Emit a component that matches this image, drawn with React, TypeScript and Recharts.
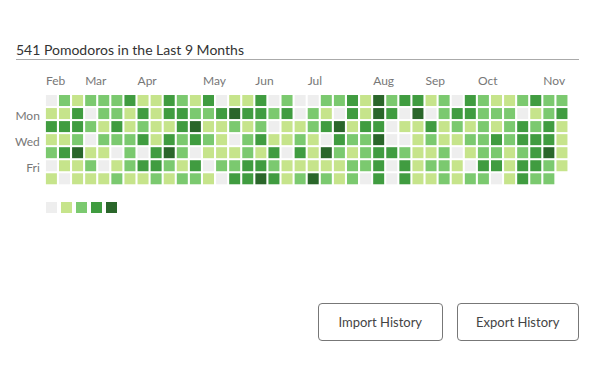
import React from "react";
import { ScatterChart, Scatter, XAxis, YAxis } from "recharts";

const title = "541 Pomodoros in the Last 9 Months";
const monthLabels = ["Feb", "Mar", "Apr", "May", "Jun", "Jul", "Aug", "Sep", "Oct", "Nov"];
const monthStartCols = [0, 3, 7, 12, 16, 20, 25, 29, 33, 38];
const dayLabels = ["Mon", "Wed", "Fri"];
const dayTicks = [1, 3, 5];
const levelColors = ["#eeeeee", "#c6e48b", "#7bc96f", "#409c40", "#2a662a"];
const legendLevels = [0, 1, 2, 3, 4];
const buttonLabels = ["Import History", "Export History"];

// levels per weekday (Sun..Sat), one value per week column; null = no day yet
const sun = [0,2,1,2,2,2,3,1,1,3, 2,1,3,0,1,1,3,0,2,0, 0,2,2,3,1,4,2,3,3,1, 2,0,3,2,1,1,2,3,2,2];
const mon = [1,1,3,0,2,2,1,3,1,3, 3,2,2,3,4,3,3,2,3,0, 2,1,0,3,1,4,3,0,4,0, 2,3,3,2,2,2,0,1,2,3];
const tue = [3,3,3,2,1,3,1,2,1,1, 3,4,1,1,2,1,2,0,1,1, 2,3,4,1,3,3,0,1,1,3, 1,2,1,2,1,2,3,2,3,1];
const wed = [1,1,2,0,2,2,2,3,1,3, 2,3,2,1,0,2,3,1,1,2, 1,0,3,2,2,4,0,0,1,2, 1,1,2,2,3,2,3,3,3,1];
const thu = [2,3,4,1,1,0,2,0,3,4, 2,0,1,1,1,2,1,3,0,3, 1,4,2,1,2,3,3,2,1,1, 2,0,1,2,2,1,2,3,4,1];
const fri = [0,1,1,2,0,1,2,3,3,2, 1,3,0,2,2,3,3,2,1,1, 1,1,1,2,2,3,0,3,1,2, 2,1,0,3,3,1,3,3,2,1];
const sat: (number | null)[] = [1,0,1,1,1,2,1,1,2,1, 2,2,1,0,3,3,4,3,1,2, 4,2,1,2,0,3,0,3,1,1, 2,1,2,2,0,1,3,2,2,null];

const weekRows: (number | null)[][] = [sun, mon, tue, wed, thu, fri, sat];

const cells: { col: number; day: number; level: number }[] = [];
weekRows.forEach((row, day) => {
  row.forEach((level, col) => {
    if (level !== null) cells.push({ col, day, level });
  });
});

const FONT = "Lato, 'Open Sans', sans-serif";
const CELL = 11;

const CellShape = (props: any) => {
  const { cx, cy, payload } = props;
  return (
    <rect
      x={cx - CELL / 2}
      y={cy - CELL / 2}
      width={CELL}
      height={CELL}
      fill={levelColors[payload.level]}
    />
  );
};

const MonthTick = (props: any) => {
  const { x, y, payload } = props;
  return (
    <text x={x - CELL / 2} y={y} textAnchor="start" fontSize={12} fontFamily={FONT} fill="#777">
      {monthLabels[payload.index]}
    </text>
  );
};

const DayTick = (props: any) => {
  const { x, y, payload } = props;
  return (
    <text x={x} y={y} dy={6.5} textAnchor="end" fontSize={12} fontFamily={FONT} fill="#777">
      {dayLabels[payload.index]}
    </text>
  );
};

export default function App() {
  return (
    <div
      style={{
        position: "absolute",
        left: 0,
        top: 0,
        width: 600,
        height: 375,
        background: "#fff",
        fontFamily: FONT,
      }}
    >
      <div
        style={{
          position: "absolute",
          left: 16,
          top: 41,
          fontSize: 14,
          color: "#333",
          whiteSpace: "nowrap",
        }}
      >
        {title}
      </div>
      <div
        style={{
          position: "absolute",
          left: 16,
          top: 59,
          width: 563,
          height: 1,
          background: "#aaa",
        }}
      />
      <div style={{ position: "absolute", left: 0, top: 0 }}>
        <ScatterChart
          width={600}
          height={375}
          margin={{ top: 74, right: 31.5, bottom: 189.7, left: 4.85 }}
        >
          <XAxis
            type="number"
            dataKey="col"
            orientation="top"
            height={20}
            domain={[-0.5, 39.5]}
            ticks={monthStartCols}
            interval={0}
            axisLine={false}
            tickLine={false}
            tickSize={0}
            tickMargin={9.5}
            tick={<MonthTick />}
          />
          <YAxis
            type="number"
            dataKey="day"
            width={40}
            reversed
            domain={[-0.5, 6.5]}
            ticks={dayTicks}
            interval={0}
            axisLine={false}
            tickLine={false}
            tickSize={0}
            tickMargin={5}
            tick={<DayTick />}
          />
          <Scatter data={cells} shape={<CellShape />} isAnimationActive={false} />
        </ScatterChart>
      </div>
      {legendLevels.map((lv, i) => (
        <div
          key={lv}
          style={{
            position: "absolute",
            left: 46 + i * 15,
            top: 202,
            width: CELL,
            height: CELL,
            background: levelColors[lv],
          }}
        />
      ))}
      {buttonLabels.map((label, i) => (
        <div
          key={label}
          style={{
            position: "absolute",
            left: i === 0 ? 318 : 456.5,
            top: 303,
            width: i === 0 ? 122.5 : 120.5,
            height: 35.5,
            border: "1px solid #777",
            borderRadius: 4,
            display: "flex",
            alignItems: "center",
            justifyContent: "center",
            fontSize: 13,
            color: "#444",
          }}
        >
          {label}
        </div>
      ))}
    </div>
  );
}
